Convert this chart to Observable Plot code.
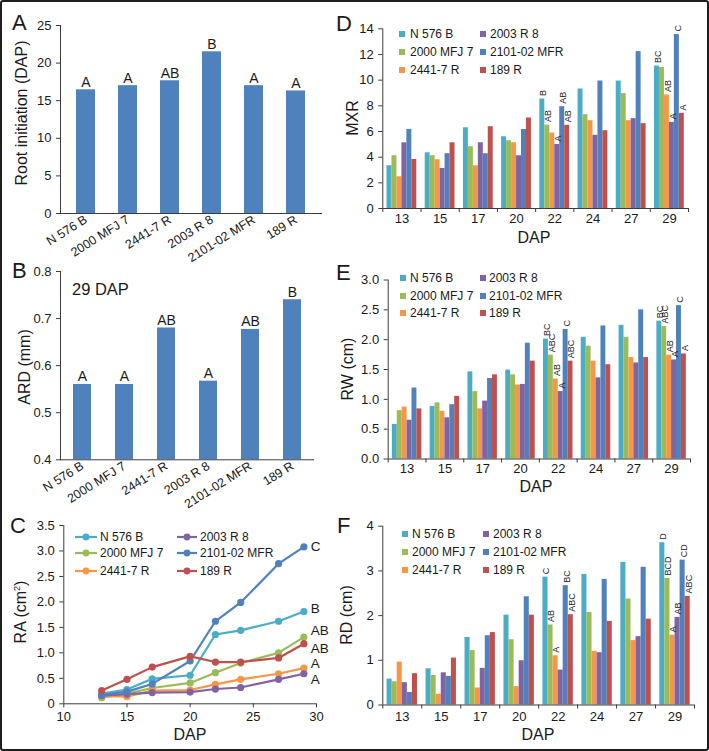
<!DOCTYPE html>
<html>
<head>
<meta charset="utf-8">
<script src="https://cdn.jsdelivr.net/npm/d3@7"></script>
<script src="https://cdn.jsdelivr.net/npm/@observablehq/plot@0.6"></script>
<style>
  html, body { margin: 0; padding: 0; background: #fff; }
  #fig { position: relative; width: 709px; height: 751px; background: #fff; overflow: hidden;
         font-family: "Liberation Sans", Arial, sans-serif; color: #1a1a1a; }
  #border { position: absolute; left: 0; top: 0; width: 709px; height: 751px; box-sizing: border-box;
            border: 2px solid #1e1e1e; border-radius: 3px; pointer-events: none; }
  .t { position: absolute; white-space: nowrap; line-height: 1; }
</style>
</head>
<body>
<div id="fig"><div id="border"></div></div>
<script>
// ---------------- data ----------------
const genotypes = ["N 576 B", "2000 MFJ 7", "2441-7 R", "2003 R 8", "2101-02 MFR", "189 R"];
const seriesColors = ["#4BACC6", "#9BBB59", "#F79646", "#8064A2", "#4F81BD", "#C0504D"];
const barBlue = "#4F81BD";

const rootInitiation = [16.45, 17.0, 17.65, 21.5, 17.0, 16.3];
const rootInitiationLetters = ["A", "A", "AB", "B", "A", "A"];

const ard29 = [0.56, 0.56, 0.68, 0.567, 0.677, 0.74];
const ard29Letters = ["A", "A", "AB", "A", "AB", "B"];

const dap = [13, 15, 17, 20, 22, 24, 27, 29];

const ra = [
  [0.20, 0.28, 0.49, 0.56, 1.36, 1.44, 1.62, 1.81],
  [0.12, 0.20, 0.31, 0.41, 0.61, 0.80, 1.00, 1.31],
  [0.15, 0.14, 0.26, 0.27, 0.38, 0.48, 0.59, 0.70],
  [0.16, 0.19, 0.22, 0.23, 0.29, 0.32, 0.48, 0.59],
  [0.17, 0.24, 0.39, 0.84, 1.62, 1.99, 2.75, 3.08],
  [0.26, 0.48, 0.72, 0.93, 0.82, 0.82, 0.90, 1.18]
];
const raLetters = ["B", "AB", "A", "A", "C", "AB"];

const mxr = [
  [3.33, 4.34, 6.29, 5.59, 8.53, 9.31, 9.93, 11.10],
  [4.11, 4.11, 4.81, 5.28, 6.50, 7.31, 8.95, 10.98],
  [2.47, 3.80, 3.33, 5.12, 5.88, 6.84, 6.84, 8.84],
  [5.12, 3.12, 5.12, 4.11, 4.99, 5.70, 7.00, 6.71],
  [6.16, 4.27, 4.27, 6.16, 7.93, 9.93, 12.22, 13.55],
  [3.82, 5.12, 6.37, 7.05, 6.48, 6.06, 6.61, 7.41]
];
const mxrLetters22 = ["B", "AB", "", "A", "AB", "AB"];
const mxrLetters29 = ["BC", "", "AB", "A", "C", "A"];

const rw = [
  [0.58, 0.88, 1.46, 1.49, 2.01, 2.04, 2.24, 2.31],
  [0.81, 0.94, 1.13, 1.41, 1.74, 1.89, 2.04, 2.22],
  [0.87, 0.80, 0.84, 1.24, 1.34, 1.64, 1.70, 1.74],
  [0.65, 0.69, 0.97, 1.25, 1.13, 1.36, 1.61, 1.66],
  [1.19, 0.91, 1.35, 1.94, 2.17, 2.23, 2.50, 2.57],
  [0.84, 1.05, 1.41, 1.64, 1.64, 1.58, 1.70, 1.76]
];
const rwLetters22 = ["BC", "ABC", "AB", "A", "C", "ABC"];
const rwLetters29 = ["BC", "ABC", "AB", "A", "C", "A"];

const rd = [
  [0.58, 0.81, 1.51, 2.01, 2.86, 2.92, 3.19, 3.63],
  [0.52, 0.66, 1.22, 1.46, 1.79, 2.07, 2.37, 2.83],
  [0.96, 0.24, 0.38, 0.41, 1.10, 1.20, 1.44, 1.56],
  [0.50, 0.72, 0.82, 0.99, 0.78, 1.17, 1.53, 1.96],
  [0.28, 0.64, 1.55, 2.42, 2.67, 2.81, 3.08, 3.24],
  [0.70, 1.05, 1.62, 2.01, 2.02, 1.87, 1.92, 2.43]
];
const rdLetters22 = ["C", "AB", "A", "", "BC", "ABC"];
const rdLetters29 = ["D", "BCD", "A", "AB", "CD", "ABC"];

// ---------------- helpers ----------------
const FONT = "'Liberation Sans', Arial, sans-serif";
const AXIS = "#3c3c3c";
const TXT = "#1a1a1a";
const fig = document.getElementById("fig");
const border = document.getElementById("border");

function place(node, left, top) {
  node.style.position = "absolute";
  node.style.left = left + "px";
  node.style.top = top + "px";
  fig.insertBefore(node, border);
}
function label(html, x, cy, size, opts = {}) {
  const d = document.createElement("div");
  d.className = "t";
  d.innerHTML = html;
  d.style.fontSize = size + "px";
  d.style.left = x + "px";
  d.style.top = cy + "px";
  let tr = "";
  if (opts.center) tr += "translateX(-50%) ";
  tr += "translateY(-50%)";
  if (opts.rotate) tr = "translate(-50%,-50%) rotate(-90deg)";
  d.style.transform = tr;
  fig.insertBefore(d, border);
  return d;
}
const baseStyle = {background: "transparent", overflow: "visible", fontFamily: FONT, color: TXT};

// ---------------- panel A ----------------
{
  const rows = genotypes.map((g, i) => ({g, v: rootInitiation[i], l: rootInitiationLetters[i]}));
  const p = Plot.plot({
    width: 340, height: 245, marginLeft: 60, marginRight: 18, marginTop: 25, marginBottom: 32,
    style: baseStyle,
    x: {domain: genotypes, paddingInner: 0.54, paddingOuter: 0.374, label: null},
    y: {domain: [0, 25], label: null},
    marks: [
      Plot.barY(rows, {x: "g", y: "v", fill: barBlue}),
      Plot.text(rows, {x: "g", y: "v", text: "l", lineAnchor: "bottom", dy: -3, fontSize: 14, fill: TXT}),
      Plot.ruleY([0], {stroke: AXIS}),
      Plot.frame({anchor: "left", stroke: AXIS}),
      Plot.axisY({ticks: [0, 5, 10, 15, 20, 25], tickSize: 4, fontSize: 13, label: null, stroke: AXIS, fill: TXT}),
      Plot.axisX({tickSize: 0, tickRotate: -32, tickPadding: 5, fontSize: 12.5, label: null, fill: TXT})
    ]
  });
  place(p, 0, 0);
  label("A", 12, 23, 22);
  label("Root initiation (DAP)", 22, 113, 16, {rotate: true});
}

// ---------------- panel B ----------------
{
  const rows = genotypes.map((g, i) => ({g, v: ard29[i], l: ard29Letters[i]}));
  const p = Plot.plot({
    width: 340, height: 245, marginLeft: 60, marginRight: 26, marginTop: 26, marginBottom: 30.7,
    style: baseStyle,
    x: {domain: genotypes, paddingInner: 0.58, paddingOuter: 0.265, label: null},
    y: {domain: [0.4, 0.8], label: null},
    marks: [
      Plot.rect(rows, {x: "g", y1: 0.4, y2: "v", fill: barBlue}),
      Plot.text(rows, {x: "g", y: "v", text: "l", lineAnchor: "bottom", dy: -3, fontSize: 14, fill: TXT}),
      Plot.ruleY([0.4], {stroke: AXIS}),
      Plot.frame({anchor: "left", stroke: AXIS}),
      Plot.axisY({ticks: [0.4, 0.5, 0.6, 0.7, 0.8], tickFormat: d => d.toFixed(1), tickSize: 4, fontSize: 13, label: null, stroke: AXIS, fill: TXT}),
      Plot.axisX({tickSize: 0, tickRotate: -32, tickPadding: 5, fontSize: 12.5, label: null, fill: TXT})
    ]
  });
  place(p, 0, 245);
  label("B", 12, 271, 22);
  label("29 DAP", 72, 289, 16.5);
  label("ARD (mm)", 25, 367, 16, {rotate: true});
}

// ---------------- panel C ----------------
{
  const rows = [];
  ra.forEach((arr, s) => arr.forEach((v, i) => rows.push({g: genotypes[s], s, x: dap[i], v})));
  const last = dap.length - 1;
  const shift = [-3, -6, -4.5, 5.5, 0, 4.5];
  const p = Plot.plot({
    width: 340, height: 261, marginLeft: 63.3, marginRight: 24, marginTop: 35, marginBottom: 47.7,
    style: baseStyle,
    x: {domain: [10, 30], label: null},
    y: {domain: [0, 3.5], label: null},
    color: {domain: genotypes, range: seriesColors},
    marks: [
      Plot.ruleY([0], {stroke: AXIS}),
      Plot.ruleX([10], {stroke: AXIS}),
      Plot.line(rows, {x: "x", y: "v", z: "g", stroke: "g", strokeWidth: 2.2}),
      Plot.dot(rows, {x: "x", y: "v", fill: "g", r: 3.6}),
      ...genotypes.map((g, s) => Plot.text([s], {
        x: () => dap[last], y: k => ra[k][last], text: k => raLetters[k],
        dx: 7, dy: shift[s], textAnchor: "start", fontSize: 13.5, fill: TXT
      })),
      Plot.axisY({ticks: d3.range(0, 3.51, 0.5), tickFormat: d => d === 0 ? "0" : d.toFixed(1), tickSize: 4, fontSize: 13, label: null, stroke: AXIS, fill: TXT}),
      Plot.axisX({ticks: [10, 15, 20, 25, 30], tickSize: 4, tickPadding: 4, fontSize: 13, label: null, stroke: AXIS, fill: TXT})
    ]
  });
  place(p, 0, 490);
  label("C", 10, 525.5, 22);
  label("RA (cm<sup style='font-size:9px;vertical-align:6px'>2</sup>)", 21, 612, 16, {rotate: true});
  label("DAP", 190, 735, 16, {center: true});
  // legend
  const col = [[75, 97, 100], [177, 197, 200]];
  const rowY = [536.7, 553.3, 570.7];
  genotypes.forEach((g, s) => {
    const c = col[Math.floor(s / 3)], y = rowY[s % 3];
    const svg = document.createElementNS("http://www.w3.org/2000/svg", "svg");
    svg.setAttribute("width", c[1] - c[0]); svg.setAttribute("height", 10);
    svg.innerHTML = `<line x1="0" x2="${c[1] - c[0]}" y1="5" y2="5" stroke="${seriesColors[s]}" stroke-width="2.2"/>` +
      `<circle cx="${(c[1] - c[0]) / 2}" cy="5" r="3.4" fill="${seriesColors[s]}"/>`;
    place(svg, c[0], y - 5);
    label(g, c[2], y, 12);
  });
}

// ---------------- grouped bar panels D, E, F ----------------
const BARW = 0.13;
function groupedPanel(cfg) {
  const rows = [];
  cfg.values.forEach((arr, s) => arr.forEach((v, i) => rows.push({g: genotypes[s], s, i, v})));
  const off = (1 - BARW * genotypes.length) / 2;
  const x0 = d => d.i + off + d.s * BARW;
  const lrows = [];
  cfg.letters.forEach(([day, arr]) => {
    const i = dap.indexOf(day);
    arr.forEach((l, s) => { if (l) lrows.push({i, s, l, v: cfg.values[s][i]}); });
  });
  const p = Plot.plot({
    width: cfg.width, height: cfg.height,
    marginLeft: cfg.ml, marginRight: cfg.mr, marginTop: cfg.mt, marginBottom: cfg.mb,
    style: baseStyle,
    x: {domain: [0, dap.length], label: null},
    y: {domain: cfg.yDomain, label: null},
    color: {domain: genotypes, range: seriesColors},
    marks: [
      Plot.rect(rows, {x1: x0, x2: d => x0(d) + BARW, y1: cfg.yDomain[0], y2: "v", fill: "g"}),
      Plot.text(lrows, {x: d => d.i + off + (d.s + 0.5) * BARW, y: "v", text: "l", rotate: -90,
        textAnchor: "start", dy: -3, dx: 1, fontSize: 9, fill: TXT}),
      Plot.ruleY([cfg.yDomain[0]], {stroke: AXIS}),
      Plot.ruleX([0], {stroke: AXIS}),
      Plot.axisY({ticks: cfg.yTicks, tickFormat: cfg.yFmt, tickSize: 4, fontSize: 13, label: null, stroke: AXIS, fill: TXT}),
      Plot.axisX({ticks: d3.range(0, dap.length + 1), tickFormat: () => "", tickSize: 4, label: null, stroke: AXIS}),
      Plot.axisX({ticks: dap.map((_, i) => i + 0.5), tickFormat: t => String(dap[Math.floor(t)]), tickSize: 0,
        tickPadding: cfg.xPad, fontSize: 13, label: null, fill: TXT})
    ]
  });
  place(p, cfg.left, cfg.top);
  // legend
  const rowsY = cfg.legendRows;
  genotypes.forEach((g, s) => {
    const c = cfg.legendCols[Math.floor(s / 3)], y = rowsY[s % 3];
    const sw = document.createElement("div");
    sw.style.width = "6px"; sw.style.height = "6px"; sw.style.background = seriesColors[s];
    place(sw, c[0], y - 3);
    label(g, c[1], y, 12);
  });
}

groupedPanel({
  values: mxr, letters: [[22, mxrLetters22], [29, mxrLetters29]],
  left: 330, top: 0, width: 379, height: 245, ml: 52.3, mr: 21, mt: 28.3, mb: 37,
  yDomain: [0, 14], yTicks: d3.range(0, 15, 2), yFmt: d => String(d), xPad: 5,
  legendCols: [[399, 410], [480, 490]], legendRows: [34, 52.3, 70]
});
label("D", 336, 24, 22);
label("MXR", 353, 118, 16, {rotate: true});
label("DAP", 534, 238, 16, {center: true});

groupedPanel({
  values: rw, letters: [[22, rwLetters22], [29, rwLetters29]],
  left: 330, top: 245, width: 379, height: 245, ml: 57.7, mr: 19, mt: 34.5, mb: 31.5,
  yDomain: [0, 3], yTicks: d3.range(0, 3.01, 0.5), yFmt: d => d.toFixed(1), xPad: 5,
  legendCols: [[400, 410], [480, 489]], legendRows: [277.7, 296.3, 313.3]
});
label("E", 336, 272.5, 22);
label("RW (cm)", 348, 369, 16, {rotate: true});
label("DAP", 536, 487, 16, {center: true});

groupedPanel({
  values: rd, letters: [[22, rdLetters22], [29, rdLetters29]],
  left: 330, top: 490, width: 379, height: 261, ml: 52.3, mr: 15, mt: 35.7, mb: 46.5,
  yDomain: [0, 4], yTicks: [0, 1, 2, 3, 4], yFmt: d => String(d), xPad: 7,
  legendCols: [[402, 412], [483, 493]], legendRows: [534.3, 552.3, 570]
});
label("F", 337, 525.5, 22);
label("RD (cm)", 347, 615, 16, {rotate: true});
label("DAP", 538, 735, 16, {center: true});
</script>
</body>
</html>
